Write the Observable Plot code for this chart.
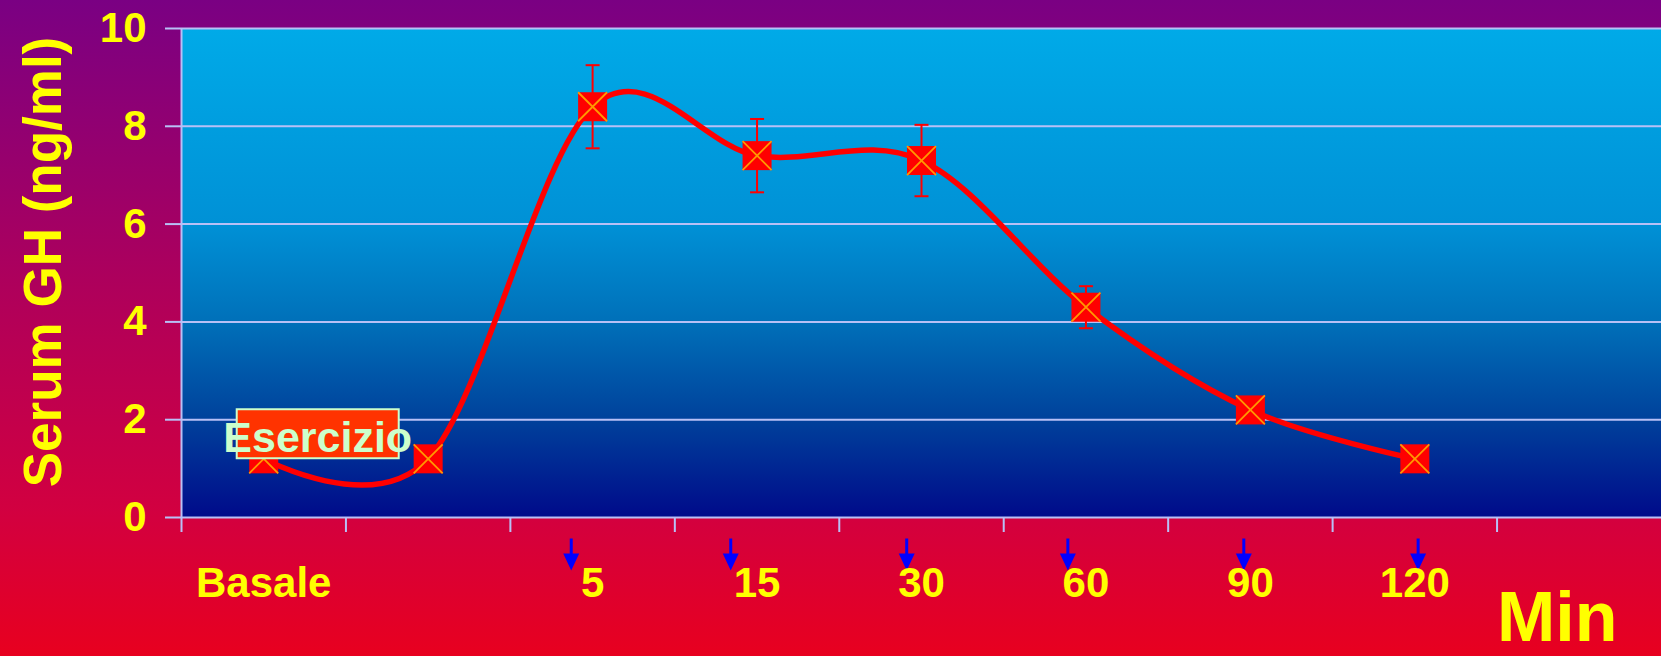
<!DOCTYPE html>
<html>
<head>
<meta charset="utf-8">
<script src="https://cdn.jsdelivr.net/npm/d3@7"></script>
<script src="https://cdn.jsdelivr.net/npm/@observablehq/plot@0.6"></script>
<style>
  html, body { margin: 0; padding: 0; width: 1661px; height: 656px; overflow: hidden;
    background: linear-gradient(to bottom, #7A0083 0%, #B0005A 45%, #D20040 78%, #E8001F 100%); }
  #chart svg { display: block; }
</style>
</head>
<body>
<div id="chart"></div>
<script>
// ---- data ----
const timeLabels = ["Basale", "", "5", "15", "30", "60", "90", "120"];
const ghValues   = [1.2, 1.2, 8.4, 7.4, 7.3, 4.3, 2.2, 1.2];
const ghErrors   = [0, 0, 0.85, 0.75, 0.73, 0.43, 0, 0];
const arrowSlots = [2.37, 3.34, 4.41, 5.39, 6.46, 7.52];
const yTicks     = [0, 2, 4, 6, 8, 10];
const slotCount  = 9;
const yTitle     = "Serum GH (ng/ml)";
const xTitle     = "Min";
const noteText   = "Esercizio";

// ---- derived tables ----
const points = timeLabels.map((label, i) => ({slot: i + 0.5, label, value: ghValues[i], error: ghErrors[i]}));
const withError = points.filter(d => d.error > 0);
const arrows = arrowSlots.map(slot => ({slot}));

// ---- custom symbols (pixel geometry) ----
const half = size => Math.sqrt(size / Math.PI);
const squareSym = {draw(ctx, size) { const h = half(size); ctx.rect(-h, -h, 2 * h, 2 * h); }};
const crossSym  = {draw(ctx, size) { const h = half(size); ctx.moveTo(-h, -h); ctx.lineTo(h, h); ctx.moveTo(-h, h); ctx.lineTo(h, -h); }};
const capSym    = {draw(ctx, size) { const h = half(size); ctx.moveTo(-h, 0); ctx.lineTo(h, 0); }};
const boxSym    = {draw(ctx, size) { const h = half(size); const v = h * 49 / 162; ctx.rect(-h, -v, 2 * h, 2 * v); }};
const arrowSym  = {draw(ctx) {
  ctx.rect(-1.5, 21, 3, 17);
  ctx.moveTo(-8, 36); ctx.lineTo(8, 36); ctx.lineTo(0, 53); ctx.closePath();
}};

const lavender = "#B8C0F6";
const yellow = "#FFFF00";
const red = "#FF0000";

const svg = Plot.plot({
  width: 1661,
  height: 656,
  marginLeft: 181,
  marginRight: 0,
  marginTop: 28,
  marginBottom: 139,
  style: {background: "transparent", fontFamily: "'Liberation Sans', Arial, sans-serif", fontWeight: "bold", overflow: "visible"},
  x: {domain: [0, slotCount]},
  y: {domain: [0, 10]},
  marks: [
    Plot.frame({fill: "url(#plotBg)", stroke: "none"}),
    Plot.gridY({ticks: yTicks, stroke: lavender, strokeOpacity: 1, strokeWidth: 2}),
    Plot.ruleX([0], {stroke: lavender, strokeWidth: 2}),
    Plot.axisY({ticks: yTicks, tickSize: 16, tickPadding: 19, stroke: lavender, strokeWidth: 2,
      fill: yellow, fontSize: 42, fontWeight: "bold", label: null}),
    Plot.axisX({ticks: d3.range(0, slotCount), tickSize: 15, tickFormat: () => "", stroke: lavender, strokeWidth: 2, label: null}),
    Plot.line(points, {x: "slot", y: "value", curve: "cardinal", stroke: red, strokeWidth: 5.5}),
    Plot.ruleX(withError, {x: "slot", y1: d => d.value - d.error, y2: d => d.value + d.error, stroke: red, strokeWidth: 2}),
    Plot.dot(withError, {x: "slot", y: d => d.value + d.error, symbol: capSym, r: 7, stroke: red, strokeWidth: 2, fill: "none"}),
    Plot.dot(withError, {x: "slot", y: d => d.value - d.error, symbol: capSym, r: 7, stroke: red, strokeWidth: 2, fill: "none"}),
    Plot.dot(points, {x: "slot", y: "value", symbol: squareSym, r: 14.5, fill: red, stroke: "none"}),
    Plot.dot(points, {x: "slot", y: "value", symbol: crossSym, r: 14.5, stroke: "#FF9900", strokeWidth: 1.8, fill: "none"}),
    // annotation "Esercizio" anchored at the baseline point
    Plot.dot([points[0]], {x: "slot", y: "value", symbol: boxSym, r: 81, dx: 54, dy: -25, fill: "#FF3300", stroke: "#CCFFCC", strokeWidth: 2}),
    Plot.text([points[0]], {x: "slot", y: "value", text: () => noteText, dx: 54, dy: -21, fontSize: 43, fontWeight: "bold", fill: "#CCFFCC"}),
    // sampling arrows under the axis
    Plot.dot(arrows, {x: "slot", y: 0, symbol: arrowSym, r: 5, fill: "#0000FF", stroke: "none"}),
    // category labels
    Plot.text(points, {x: "slot", y: 0, text: "label", lineAnchor: "top", dy: 50, fontSize: 42, fontWeight: "bold", fill: yellow}),
    // titles
    Plot.text([yTitle], {frameAnchor: "left", text: d => d, rotate: -90, textAnchor: "middle", lineAnchor: "bottom",
      dx: -121, dy: -11, fontSize: 53, fontWeight: "bold", fill: yellow}),
    Plot.text([xTitle], {frameAnchor: "bottom-right", text: d => d, textAnchor: "end", lineAnchor: "bottom",
      dx: -44, dy: 123, fontSize: 70, fontWeight: "bold", fill: yellow})
  ]
});

const defs = document.createElementNS("http://www.w3.org/2000/svg", "defs");
defs.innerHTML = `<linearGradient id="plotBg" x1="0" y1="0" x2="0" y2="1">
  <stop offset="0" stop-color="#00AAE8"/>
  <stop offset="0.4" stop-color="#0091D6"/>
  <stop offset="0.6" stop-color="#0070B9"/>
  <stop offset="0.8" stop-color="#00419B"/>
  <stop offset="1" stop-color="#000A8A"/>
</linearGradient>`;
svg.insertBefore(defs, svg.firstChild);

document.getElementById("chart").appendChild(svg);
</script>
</body>
</html>
